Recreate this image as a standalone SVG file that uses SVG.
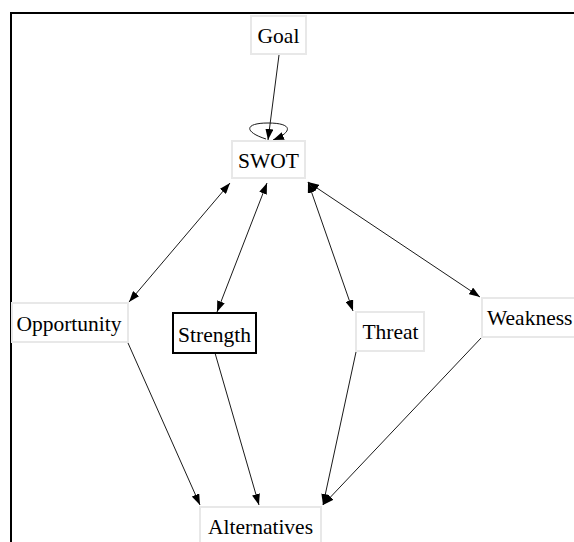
<svg xmlns="http://www.w3.org/2000/svg" width="574" height="542" viewBox="0 0 574 542">
<style>
.box{fill:#ffffff;stroke:#e8e8e8;stroke-width:2}
.sel{fill:#ffffff;stroke:#000000;stroke-width:2}
.lbl{font-family:'Liberation Serif','DejaVu Serif',serif;font-size:21.5px;fill:#000000;text-anchor:middle}
.edge{fill:none;stroke:#1a1a1a;stroke-width:1}
</style>
<defs>
<marker id="ah" markerUnits="userSpaceOnUse" markerWidth="12" markerHeight="8" refX="11" refY="4" orient="auto-start-reverse">
<path d="M0,0 L11,4 L0,8 z" fill="#000000"/>
</marker>
</defs>
<rect x="0" y="0" width="574" height="542" fill="#ffffff"/>
<polyline points="11,542 11,13 574,13" fill="none" stroke="#000000" stroke-width="2"/>
<g id="connectors">
<line class="edge" x1="279" y1="55" x2="268" y2="140" marker-end="url(#ah)"/>
<path class="edge" d="M266,139 C244,132 244,123 268,123 C293,123 293,132 273,140" marker-end="url(#ah)"/>
<line class="edge" x1="230" y1="183" x2="129" y2="302" marker-start="url(#ah)" marker-end="url(#ah)"/>
<line class="edge" x1="267" y1="183" x2="217" y2="312" marker-start="url(#ah)" marker-end="url(#ah)"/>
<line class="edge" x1="308" y1="182" x2="353" y2="311" marker-start="url(#ah)" marker-end="url(#ah)"/>
<line class="edge" x1="308" y1="182" x2="480" y2="297" marker-start="url(#ah)" marker-end="url(#ah)"/>
<line class="edge" x1="128" y1="343" x2="200" y2="505" marker-end="url(#ah)"/>
<line class="edge" x1="215" y1="353" x2="259" y2="505" marker-end="url(#ah)"/>
<line class="edge" x1="356" y1="352" x2="323" y2="505" marker-end="url(#ah)"/>
<line class="edge" x1="482" y1="337" x2="323" y2="505" marker-end="url(#ah)"/>
</g>
<g id="node-goal">
<rect class="box" x="251" y="16" width="55" height="38"/>
<text class="lbl" font-family="Liberation Serif, serif" x="278.5" y="43">Goal</text>
</g>
<g id="node-swot">
<rect class="box" x="232" y="141" width="73" height="37"/>
<text class="lbl" font-family="Liberation Serif, serif" x="268.5" y="168">SWOT</text>
</g>
<g id="node-opportunity">
<rect class="box" x="12" y="303" width="116" height="39"/>
<text class="lbl" font-family="Liberation Serif, serif" x="69" y="331">Opportunity</text>
</g>
<g id="node-strength">
<rect class="sel" x="173" y="313" width="83" height="40"/>
<text class="lbl" font-family="Liberation Serif, serif" x="214.5" y="342">Strength</text>
</g>
<g id="node-threat">
<rect class="box" x="356" y="312" width="68" height="39"/>
<text class="lbl" font-family="Liberation Serif, serif" x="390.5" y="339">Threat</text>
</g>
<g id="node-weakness">
<rect class="box" x="482" y="298" width="110" height="39"/>
<text class="lbl" font-family="Liberation Serif, serif" x="487" y="325" style="text-anchor:start">Weakness</text>
</g>
<g id="node-alternatives">
<rect class="box" x="200" y="507" width="121" height="40"/>
<text class="lbl" font-family="Liberation Serif, serif" x="260.5" y="534">Alternatives</text>
</g>
</svg>
